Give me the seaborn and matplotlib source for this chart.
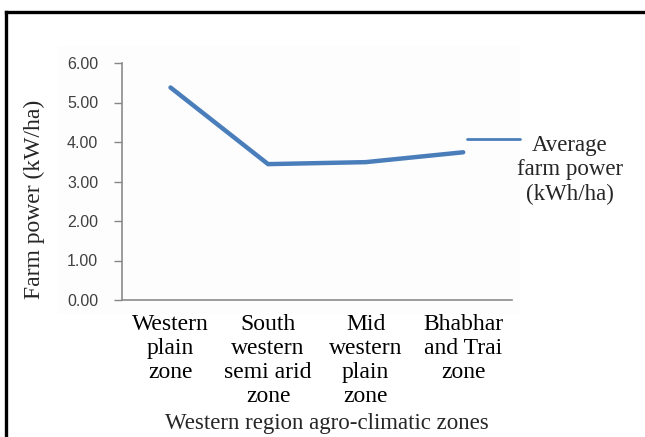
import matplotlib
matplotlib.use("Agg")
import matplotlib.pyplot as plt
import matplotlib.patches as mpatches
from matplotlib.lines import Line2D
import pandas as pd
import seaborn as sns

# Agro-climatic zones of the western region and their average farm power
zones = [
    "Western\nplain\nzone",
    "South\nwestern\nsemi arid\nzone",
    "Mid\nwestern\nplain\nzone",
    "Bhabhar\nand Trai\nzone",
]
farm_power = [5.38, 3.44, 3.49, 3.74]
y_ticks = [0, 1, 2, 3, 4, 5, 6]
y_tick_labels = ["0.00", "1.00", "2.00", "3.00", "4.00", "5.00", "6.00"]
series_label = "Average\nfarm power\n(kWh/ha)"

df = pd.DataFrame({"zone": list(range(len(zones))), "power": farm_power})

sns.set_style("white")
plt.rcParams["font.family"] = ["Liberation Serif", "DejaVu Serif"]

W, H = 645, 437
fig = plt.figure(figsize=(W / 100, H / 100), dpi=100)
fig.patch.set_facecolor("white")

# faint chart-area backdrop
fig.add_artist(mpatches.Rectangle((58 / W, 1 - 314 / H), (520 - 58) / W, (314 - 46) / H,
                                  transform=fig.transFigure, facecolor="#fdfdfd",
                                  edgecolor="none", zorder=0))

# outer frame (left and top edges)
fig.add_artist(Line2D([5.5 / W, 5.5 / W], [0, 1 - 11.5 / H], transform=fig.transFigure,
                      color="black", lw=2.4, solid_capstyle="projecting"))
fig.add_artist(Line2D([5.5 / W, 1.0], [1 - 11.5 / H, 1 - 11.5 / H], transform=fig.transFigure,
                      color="black", lw=2.4, solid_capstyle="projecting"))

left, right, top, bottom = 121.7, 512, 63, 300
ax = fig.add_axes([left / W, 1 - bottom / H, (right - left) / W, (bottom - top) / H])
ax.set_facecolor("none")

sns.lineplot(data=df, x="zone", y="power", ax=ax, color="#4a7ebb", linewidth=3.2,
             legend=False)

ax.set_xlim(-0.5, len(zones) - 0.5)
ax.set_ylim(0, 6)
ax.set_yticks(y_ticks)
ax.set_yticklabels(y_tick_labels, family=["Liberation Sans", "DejaVu Sans"],
                   fontsize=11.5, color="#404040")
ax.set_xticks(range(len(zones)))
ax.set_xticklabels(zones, fontsize=17, linespacing=1.2, color="black")
ax.tick_params(axis="y", direction="out", length=6, width=1, color="#868686", pad=11, left=True)
ax.tick_params(axis="x", length=0, pad=10)
for side in ["top", "right"]:
    ax.spines[side].set_visible(False)
for side in ["left", "bottom"]:
    ax.spines[side].set_color("#8c8c8c")
    ax.spines[side].set_linewidth(1.2)
ax.set_xlabel("")
ax.set_ylabel("")

fig.text(327 / W, 1 - 423 / H, "Western region agro-climatic zones", ha="center", va="center",
         fontsize=16.5)
fig.text(34 / W, 1 - 199 / H, "Farm power (kW/ha)", ha="center", va="center",
         rotation=90, fontsize=17)

# series key
fig.add_artist(Line2D([467 / W, 520 / W], [1 - 139 / H, 1 - 139 / H], transform=fig.transFigure,
                      color="#4a7ebb", lw=2))
fig.text(570 / W, 1 - 170 / H, series_label, ha="center", va="center", fontsize=16.5,
         linespacing=1.2)

fig.savefig("out.png", dpi=100)
